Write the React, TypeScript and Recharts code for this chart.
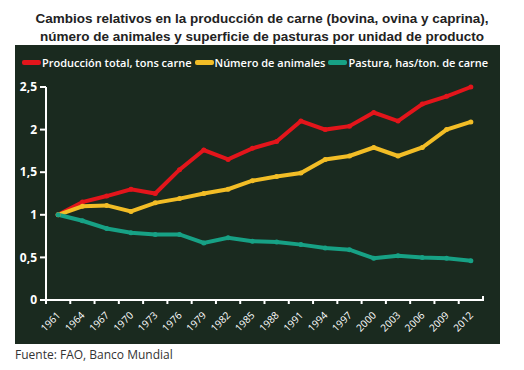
import { CartesianGrid, Line, LineChart, XAxis, YAxis } from "recharts";

const years = ["1961", "1964", "1967", "1970", "1973", "1976", "1979", "1982", "1985", "1988", "1991", "1994", "1997", "2000", "2003", "2006", "2009", "2012"];
const produccion = [1.0, 1.15, 1.22, 1.3, 1.25, 1.53, 1.76, 1.65, 1.78, 1.86, 2.1, 2.0, 2.04, 2.2, 2.1, 2.3, 2.39, 2.5];
const animales = [1.0, 1.1, 1.11, 1.04, 1.14, 1.19, 1.25, 1.3, 1.4, 1.45, 1.49, 1.65, 1.69, 1.79, 1.69, 1.79, 2.0, 2.09];
const pastura = [1.0, 0.93, 0.84, 0.79, 0.77, 0.77, 0.67, 0.73, 0.69, 0.68, 0.65, 0.61, 0.59, 0.49, 0.52, 0.5, 0.49, 0.46];
const yTicks = [0, 0.5, 1, 1.5, 2, 2.5];

const series = [
  { key: "produccion", label: "Producción total, tons carne", color: "#e3151b" },
  { key: "animales", label: "Número de animales", color: "#f2bd26" },
  { key: "pastura", label: "Pastura, has/ton. de carne", color: "#17a185" },
];

const data = years.map((year, i) => ({
  year,
  produccion: produccion[i],
  animales: animales[i],
  pastura: pastura[i],
}));

const font = "'Open Sans', 'Liberation Sans', sans-serif";

const XTick = (props: any) => {
  const { x, y, payload, index, visibleTicksCount } = props;
  const half = payload.offset ?? 12;
  const last = index === (visibleTicksCount ?? years.length) - 1;
  const ax = x + 3;
  const ay = y + 16;
  return (
    <g>
      <line x1={x - half} y1={y} x2={x - half} y2={y + 4} stroke="#fff" strokeWidth={2} />
      {last ? <line x1={x + half} y1={y - 4} x2={x + half} y2={y + 1} stroke="#fff" strokeWidth={2} /> : null}
      <text
        x={ax}
        y={ay}
        textAnchor="end"
        fill="#fff"
        fontSize={10}
        fontFamily={font}
        transform={`rotate(-45, ${ax}, ${ay})`}
      >
        {payload.value}
      </text>
    </g>
  );
};

export default function App() {
  return (
    <div style={{ position: "relative", width: 524, height: 370, margin: -8, background: "#fff", overflow: "hidden" }}>
      <div
        style={{
          position: "absolute",
          top: 10,
          left: 0,
          width: 524,
          textAlign: "center",
          fontFamily: "'Liberation Sans', Arial, sans-serif",
          fontWeight: "bold",
          fontSize: 13.5,
          lineHeight: "18px",
          color: "#222",
        }}
      >
        Cambios relativos en la producción de carne (bovina, ovina y caprina),
        <br />
        número de animales y superficie de pasturas por unidad de producto
      </div>
      <div style={{ position: "absolute", left: 15, top: 45, width: 485, height: 299, background: "#1a2a1f" }}>
        <div
          style={{
            position: "absolute",
            top: 10,
            left: 7,
            display: "flex",
            alignItems: "center",
            fontFamily: font,
            fontSize: 11,
            fontWeight: 600,
            color: "#fff",
            whiteSpace: "nowrap",
          }}
        >
          {series.map((s) => (
            <span key={s.key} style={{ display: "flex", alignItems: "center", marginRight: 3 }}>
              <span style={{ display: "inline-block", width: 19, height: 5, background: s.color, borderRadius: 2, marginRight: 1 }} />
              {s.label}
            </span>
          ))}
        </div>
        <LineChart width={485} height={299} data={data} margin={{ top: 42, right: 17, left: 0, bottom: 0 }}>
          <CartesianGrid stroke="none" />
          <XAxis
            dataKey="year"
            scale="band"
            height={44}
            interval={0}
            tickSize={0}
            tickMargin={0}
            tickLine={false}
            axisLine={{ stroke: "#fff", strokeWidth: 2 }}
            tick={<XTick />}
          />
          <YAxis
            width={31}
            domain={[0, 2.5]}
            ticks={yTicks}
            tickSize={6}
            tickMargin={3}
            axisLine={{ stroke: "#fff", strokeWidth: 2 }}
            tickLine={{ stroke: "#fff", strokeWidth: 2 }}
            tickFormatter={(v: number) => String(v).replace(".", ",")}
            tick={{ fill: "#fff", fontSize: 12, fontWeight: 700, fontFamily: font }}
          />
          {series.map((s) => (
            <Line
              key={s.key}
              dataKey={s.key}
              stroke={s.color}
              strokeWidth={4}
              dot={{ r: 2.5, fill: s.color, stroke: "none" }}
              activeDot={false}
              isAnimationActive={false}
            />
          ))}
        </LineChart>
      </div>
      <div
        style={{
          position: "absolute",
          left: 15,
          top: 346,
          fontFamily: font,
          fontSize: 12,
          color: "#333",
        }}
      >
        Fuente: FAO, Banco Mundial
      </div>
    </div>
  );
}
